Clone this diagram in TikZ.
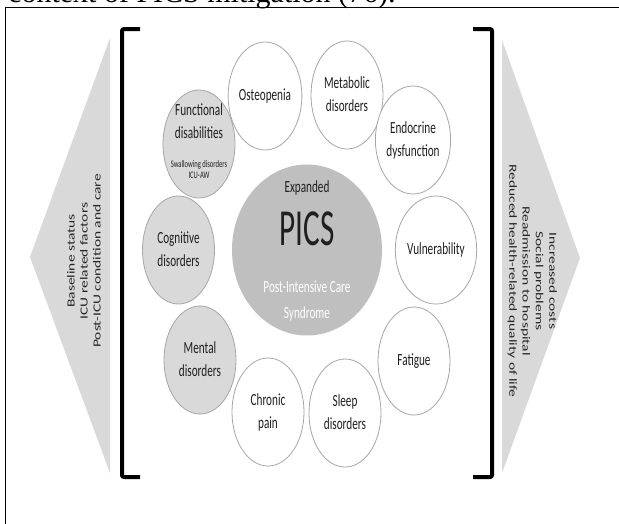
\documentclass[tikz,border=0pt]{standalone}
\usepackage{fontspec}
\setmainfont{Carlito}
\newfontfamily\capserif{Liberation Serif}
\usetikzlibrary{shapes.geometric}
\definecolor{circline}{HTML}{A6A6A6}
\definecolor{lightfill}{HTML}{D9D9D9}
\definecolor{picsfill}{HTML}{BFBFBF}
\definecolor{txtdark}{HTML}{1F1F1F}
\definecolor{sidetxt}{HTML}{262626}
\newcommand{\hsq}[2][0.66]{\scalebox{#1}[1]{\begin{tabular}{@{}c@{}}#2\end{tabular}}}
\newcommand{\vsq}[2][0.7]{\scalebox{1}[#1]{\begin{tabular}{@{}c@{}}#2\end{tabular}}}
\tikzset{
  circ/.style={ellipse, draw=circline, line width=0.8pt, fill=white, minimum width=72pt, minimum height=108pt, inner sep=0pt, font=\fontsize{17}{23}\selectfont, text=txtdark},
  graycirc/.style={circ, fill=lightfill},
  lbl/.style={inner sep=0pt, font=\fontsize{17}{23}\selectfont, text=txtdark},
  smalllbl/.style={inner sep=0pt, font=\fontsize{10}{10.5}\selectfont, text=txtdark},
  sidelbl/.style={inner sep=0pt, text=sidetxt},
  bracketline/.style={line width=4pt, rounded corners=2pt},
}
\begin{document}
\begin{tikzpicture}[x=1pt,y=-1pt]
\useasboundingbox (0,0) rectangle (619,523);
\clip (0,0) rectangle (619,523);
\fill[white] (0,0) rectangle (619,523);
% clipped caption text at the top
\node[anchor=base west, inner sep=0pt, font=\capserif\fontsize{30}{30}\selectfont] (cap) at (8,2.5) {context of PICS mitigation (76).};
% frame
\draw[line width=1.5pt] (630,7.5) -- (5.5,7.5) -- (5.5,540);
% side arrows
\fill[lightfill] (110,38) -- (30,257) -- (110,473) -- cycle;
\fill[lightfill] (502,40) -- (580,258) -- (502,473) -- cycle;
\node[sidelbl, rotate=90, font=\fontsize{15.5}{18.5}\selectfont] (lefttxt) at (85,261) {\vsq{Baseline status\\ICU related factors\\Post-ICU condition and care}};
\node[sidelbl, rotate=-90, font=\fontsize{15.5}{19}\selectfont] (righttxt) at (532,281) {\vsq{Increased costs\\Social problems\\Readmission to hospital\\Reduced health-related quality of life}};
% brackets
\draw[bracketline] (140,29) -- (122,29) -- (122,477) -- (140,477);
\draw[bracketline] (473,29) -- (492,29) -- (492,477) -- (473,477);
% central circle
\node[ellipse, fill=picsfill, minimum width=150pt, minimum height=171pt, inner sep=0pt] (pics) at (307,250) {};
\node[lbl] (expanded) at (307,188) {\hsq{Expanded}};
\node[lbl, font=\fontsize{52}{52}\selectfont] (picstxt) at (307,235) {\hsq[0.6]{PICS}};
\node[lbl, text=white, font=\fontsize{17}{26}\selectfont] (picsname) at (307,300) {\hsq{Post-Intensive Care\\Syndrome}};
% surrounding circles
\node[graycirc] (func) at (199,144) {};
\node[lbl] (functxt) at (199,122) {\hsq{Functional\\disabilities}};
\node[smalllbl] (funcsub) at (199,171) {\hsq{Swallowing disorders\\ICU-AW}};
\node[circ] (osteo) at (265,96) {\hsq{Osteopenia}};
\node[circ] (metab) at (347,95) {\hsq{Metabolic\\disorders}};
\node[circ] (endo) at (413,140) {\hsq{Endocrine\\dysfunction}};
\node[circ] (vuln) at (436,250) {\hsq{Vulnerability}};
\node[circ] (fatigue) at (414,361) {\hsq{Fatigue}};
\node[circ] (sleep) at (345,413) {\hsq{Sleep\\disorders}};
\node[circ] (chronic) at (268,412) {\hsq{Chronic\\pain}};
\node[graycirc] (mental) at (200,360) {\hsq{Mental\\disorders}};
\node[graycirc] (cogn) at (178.5,250) {\hsq{Cognitive\\disorders}};
\end{tikzpicture}
\end{document}
